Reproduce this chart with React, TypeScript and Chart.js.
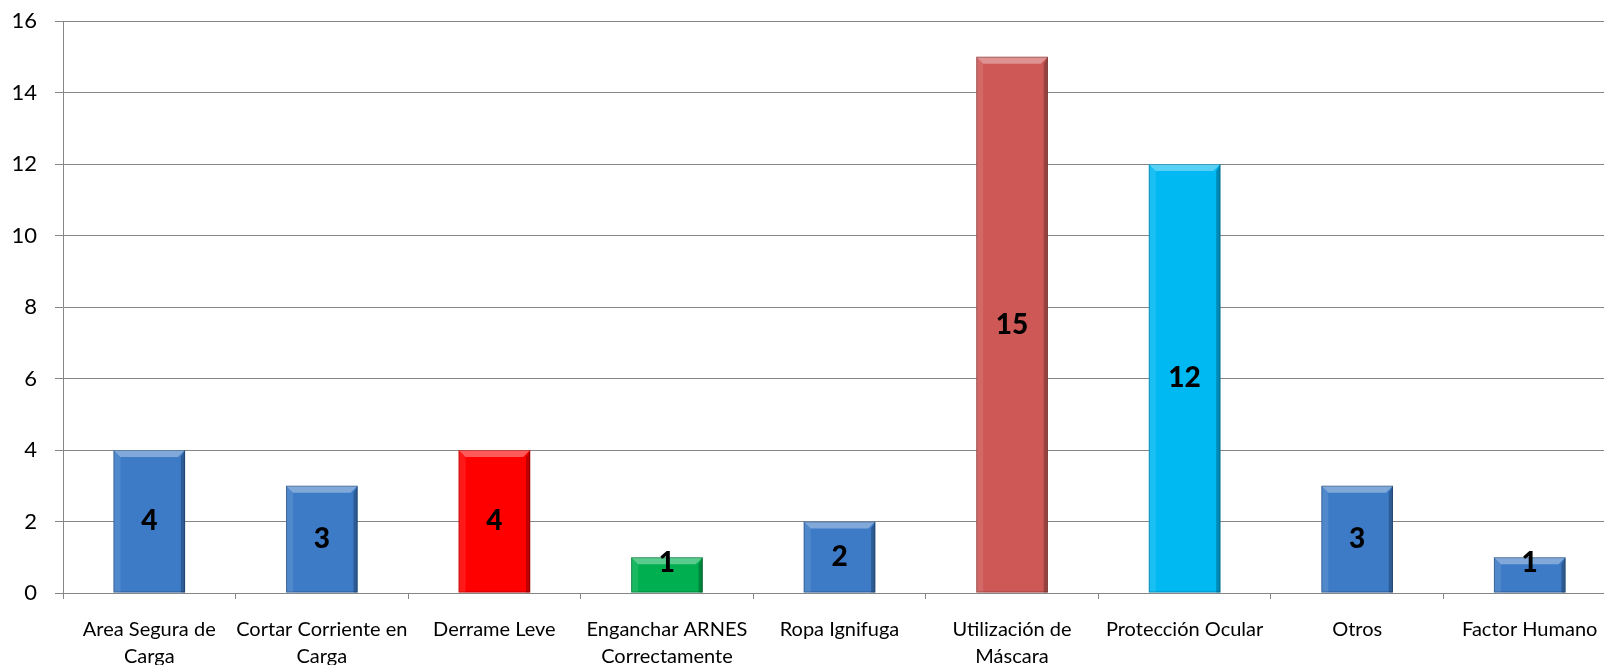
import React, { useEffect, useRef } from "react";
import { Chart, registerables } from "chart.js";

Chart.register(...registerables);

const categories: (string | string[])[] = [
  ["Area Segura de", "Carga"],
  ["Cortar Corriente en", "Carga"],
  "Derrame Leve",
  ["Enganchar ARNES", "Correctamente"],
  "Ropa Ignifuga",
  ["Utilización de", "Máscara"],
  "Protección Ocular",
  "Otros",
  "Factor Humano",
];
const values: number[] = [4, 3, 4, 1, 2, 15, 12, 3, 1];
const barColors: string[] = [
  "#3d7bc7",
  "#3d7bc7",
  "#ff0000",
  "#00b050",
  "#3d7bc7",
  "#cd5856",
  "#00b9f2",
  "#3d7bc7",
  "#3d7bc7",
];
const yTicks = { min: 0, max: 16, step: 2 };

const FONT = "Lato, 'Open Sans', sans-serif";

const bevelPlugin = {
  id: "bevel",
  afterDatasetsDraw(chart: any) {
    const ctx = chart.ctx;
    const meta = chart.getDatasetMeta(0);
    meta.data.forEach((bar: any) => {
      const { x, y, base, width } = bar.getProps(["x", "y", "base", "width"], true);
      const L = x - width / 2;
      const R = x + width / 2;
      const T = y;
      const B = base;
      const b = Math.min(7, (B - T) / 2);
      ctx.save();
      ctx.fillStyle = "rgba(255,255,255,0.35)";
      ctx.beginPath();
      ctx.moveTo(L, T);
      ctx.lineTo(R, T);
      ctx.lineTo(R - b, T + b);
      ctx.lineTo(L + b, T + b);
      ctx.closePath();
      ctx.fill();
      ctx.fillStyle = "rgba(255,255,255,0.10)";
      ctx.beginPath();
      ctx.moveTo(L, T);
      ctx.lineTo(L + b, T + b);
      ctx.lineTo(L + b, B);
      ctx.lineTo(L, B);
      ctx.closePath();
      ctx.fill();
      ctx.fillStyle = "rgba(0,0,0,0.25)";
      ctx.beginPath();
      ctx.moveTo(R, T);
      ctx.lineTo(R - b * 0.6, T + b);
      ctx.lineTo(R - b * 0.6, B);
      ctx.lineTo(R, B);
      ctx.closePath();
      ctx.fill();
      ctx.strokeStyle = "rgba(0,0,0,0.25)";
      ctx.lineWidth = 1;
      ctx.strokeRect(L + 0.5, T + 0.5, width - 1, B - T - 1);
      ctx.restore();
    });
  },
};

const labelPlugin = {
  id: "valueLabels",
  afterDatasetsDraw(chart: any) {
    const ctx = chart.ctx;
    const meta = chart.getDatasetMeta(0);
    const data = chart.data.datasets[0].data;
    ctx.save();
    ctx.font = `900 28px ${FONT}`;
    ctx.fillStyle = "#000000";
    ctx.textAlign = "center";
    ctx.textBaseline = "middle";
    meta.data.forEach((bar: any, i: number) => {
      const { x, y, base } = bar.getProps(["x", "y", "base"], true);
      const cy = Math.min((y + base) / 2, base - 30);
      ctx.fillText(String(data[i]), x, cy);
    });
    ctx.restore();
  },
};

export default function App() {
  const ref = useRef<HTMLCanvasElement | null>(null);
  useEffect(() => {
    if (!ref.current) return;
    const chart = new Chart(ref.current, {
      type: "bar",
      data: {
        labels: categories,
        datasets: [
          {
            data: values,
            backgroundColor: barColors,
            borderWidth: 0,
            barPercentage: 0.83,
            categoryPercentage: 0.5,
          },
        ],
      },
      options: {
        responsive: false,
        animation: false,
        devicePixelRatio: 1,
        layout: { padding: { top: 21, left: 0, right: 0, bottom: 0 } },
        plugins: {
          legend: { display: false },
          tooltip: { enabled: false },
        },
        scales: {
          x: {
            grid: {
              display: true,
              drawOnChartArea: false,
              tickLength: 6,
              color: "#868686",
            },
            border: { display: true, color: "#868686" },
            ticks: {
              autoSkip: false,
              maxRotation: 0,
              minRotation: 0,
              padding: 17,
              color: "#000000",
              font: { family: FONT, size: 20, lineHeight: "27px" as any },
            },
            afterFit(scale: any) {
              scale.height = 72;
            },
          },
          y: {
            min: yTicks.min,
            max: yTicks.max,
            grid: { color: "#868686", tickLength: 8 },
            border: { display: true, color: "#868686" },
            ticks: {
              stepSize: yTicks.step,
              padding: 18,
              color: "#000000",
              font: { family: FONT, size: 22 },
            },
            afterFit(scale: any) {
              scale.width = 63;
              scale.paddingTop = 0;
              scale.paddingBottom = 0;
            },
          },
        },
      },
      plugins: [bevelPlugin, labelPlugin],
    });
    return () => chart.destroy();
  }, []);

  return (
    <div
      style={{
        position: "fixed",
        left: 0,
        top: 0,
        width: 1604,
        height: 665,
        overflow: "hidden",
        background: "#ffffff",
      }}
    >
      <canvas
        ref={ref}
        width={1616}
        height={665}
        style={{ width: 1616, height: 665, display: "block" }}
      />
    </div>
  );
}
